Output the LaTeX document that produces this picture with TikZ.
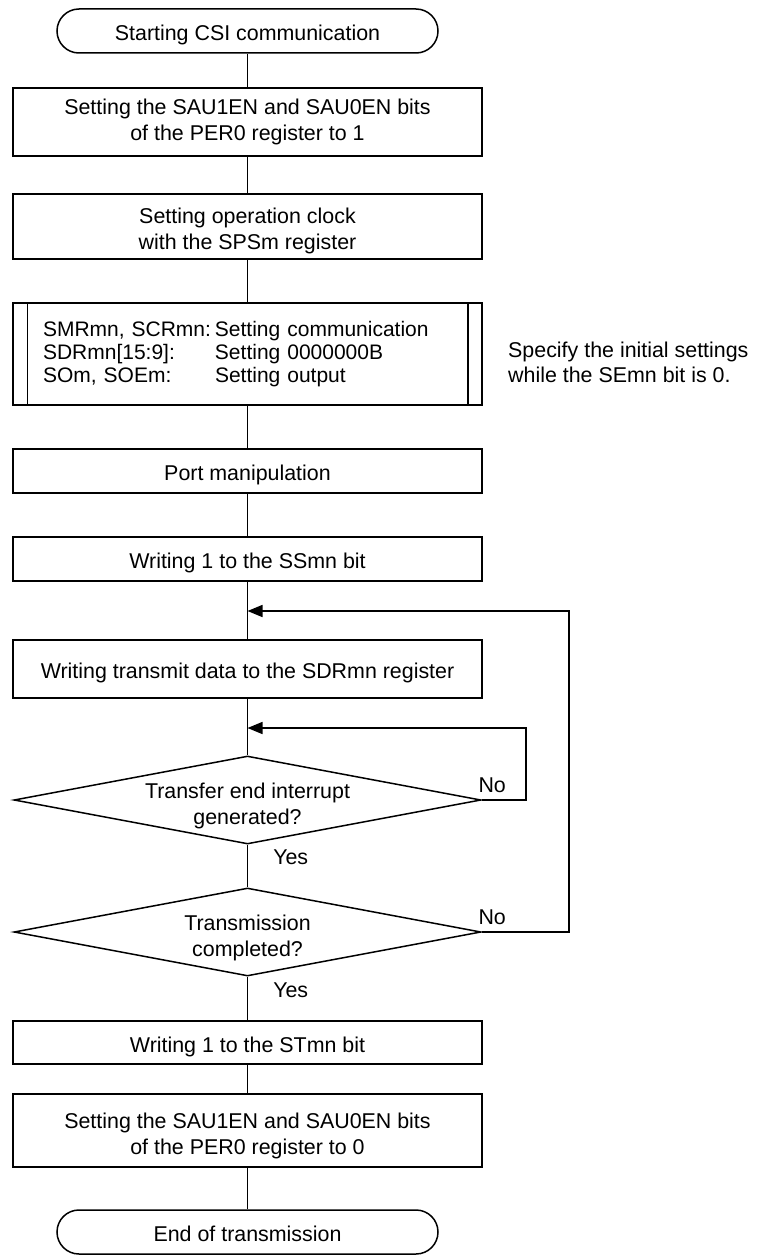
\documentclass[tikz,border=0pt]{standalone}
\usepackage{fontspec}
\setmainfont{Liberation Sans}
\usetikzlibrary{shapes.geometric,arrows.meta,calc}
\begin{document}
\begin{tikzpicture}[x=1pt,y=-1pt,
  every node/.style={font=\fontsize{21.4}{26}\selectfont},
  box/.style={draw, line width=1.5pt, minimum width=469pt, align=center, inner sep=0pt},
  oneline/.style={text height=24pt, text depth=4.5pt},
  term/.style={draw, line width=1.5pt, minimum width=381pt, minimum height=44pt,
    rounded corners=22pt, inner sep=0pt, oneline},
  decision/.style={draw, diamond, line width=1.5pt, minimum width=467pt,
    minimum height=88pt, aspect=5.3, inner sep=0pt},
  flow/.style={line width=1.5pt},
  back/.style={line width=1.5pt, -{Triangle[length=15pt,width=12pt]}},
  lbl/.style={inner sep=0pt}
]
\useasboundingbox (0,0) rectangle (757,1255);

% main column
\node[term] (start) at (247.5,31) {Starting CSI communication};
\node[box, minimum height=68pt] (b1) at (247.5,122)
  {Setting the SAU1EN and SAU0EN bits\\of the PER0 register to 1};
\node[box, minimum height=65pt, font=\fontsize{21.4}{25.5}\selectfont] (b2) at (247.5,226.5)
  {\rule{0pt}{24pt}Setting operation clock\\with the SPSm register};
\node[box, minimum height=102pt, text width=409pt, align=left, inner xsep=30pt,
  font=\fontsize{21}{23}\selectfont] (b3) at (247.5,354)
  {\makebox[172pt][l]{SMRmn, SCRmn:}Setting communication\\
   \makebox[172pt][l]{SDRmn[15:9]:}Setting 0000000B\\
   \makebox[172pt][l]{SOm, SOEm:}Setting output};
\draw[flow] ($(b3.north west)+(15,0)$) -- ($(b3.south west)+(15,0)$);
\draw[flow] ($(b3.north east)+(-15,0)$) -- ($(b3.south east)+(-15,0)$);
\node[lbl, anchor=west, align=left, font=\fontsize{21.4}{25}\selectfont] (note) at (508,362)
  {Specify the initial settings\\while the SEmn bit is 0.};
\node[box, minimum height=44pt, oneline] (b4) at (247.5,471) {Port manipulation};
\node[box, minimum height=44pt, oneline] (b5) at (247.5,559) {Writing 1 to the SSmn bit};
\node[box, minimum height=58pt, oneline] (b6) at (247.5,669)
  {Writing transmit data to the SDRmn register};
\node[decision] (d1) at (247.5,800) {};
\node[lbl, align=center] (d1text) at (247.5,806) {Transfer end interrupt\\generated?};
\node[decision] (d2) at (247.5,932) {};
\node[lbl, align=center] (d2text) at (247.5,938) {Transmission\\completed?};
\node[box, minimum height=43pt, oneline] (b7) at (247.5,1042.5) {Writing 1 to the STmn bit};
\node[box, minimum height=73pt] (b8) at (247.5,1130.5)
  {\rule{0pt}{26pt}Setting the SAU1EN and SAU0EN bits\\of the PER0 register to 0};
\node[term] (end) at (247.5,1232) {End of transmission};

% join points and loop corners
\coordinate (j1) at (247.5,611);
\coordinate (j2) at (247.5,728);
\coordinate (r1) at (526,728);
\coordinate (r2) at (569,611);

% straight flow
\draw[flow] (start) -- (b1);
\draw[flow] (b1) -- (b2);
\draw[flow] (b2) -- (b3);
\draw[flow] (b3) -- (b4);
\draw[flow] (b4) -- (b5);
\draw[flow] (b5) -- (b6);
\draw[flow] (b6) -- (d1);
\draw[flow] (d1) -- node[lbl, pos=0.3, anchor=west, xshift=25pt] {Yes} (d2);
\draw[flow] (d2) -- node[lbl, pos=0.3, anchor=west, xshift=25pt] {Yes} (b7);
\draw[flow] (b7) -- (b8);
\draw[flow] (b8) -- (end);

% loops back
\draw[back] (d1.east) node[lbl, anchor=south west, xshift=-4pt, yshift=7pt] {No}
  -| (r1) -- (j2);
\draw[back] (d2.east) node[lbl, anchor=south west, xshift=-4pt, yshift=7pt] {No}
  -| (r2) -- (j1);
\end{tikzpicture}
\end{document}
